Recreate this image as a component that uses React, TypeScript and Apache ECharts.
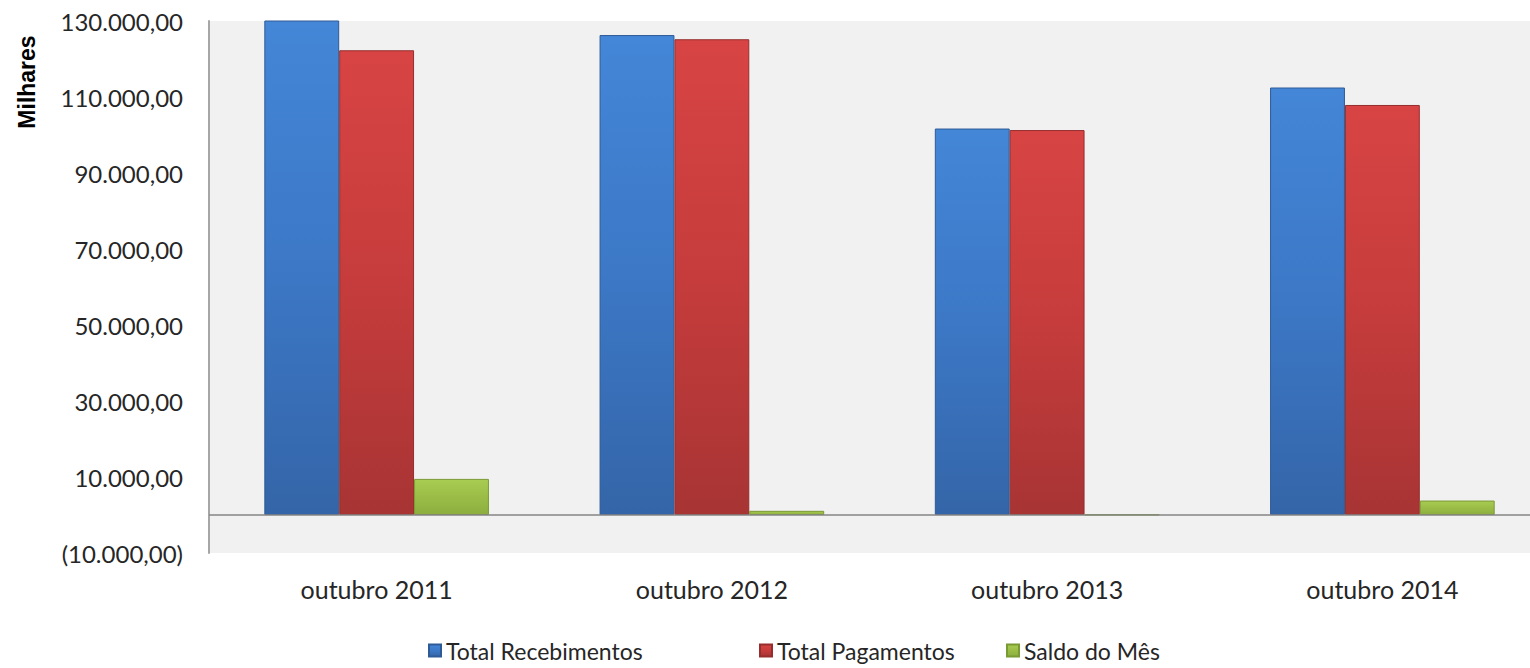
import React, { useEffect, useRef } from "react";
import * as echarts from "echarts";

const categories = ["outubro 2011", "outubro 2012", "outubro 2013", "outubro 2014"];
const seriesNames = ["Total Recebimentos", "Total Pagamentos", "Saldo do Mês"];
const recebimentos = [131800, 126300, 101700, 112500];
const pagamentos = [122300, 125200, 101300, 107900];
const saldo = [9500, 1100, 100, 3800];
const yMin = -10000;
const yMax = 130000;
const yStep = 20000;
const yAxisTitle = "Milhares";

const FONT = "Lato, 'Open Sans', sans-serif";

function fmt(v: number): string {
  const abs = Math.abs(v);
  const intPart = Math.floor(abs).toString().replace(/\B(?=(\d{3})+(?!\d))/g, ".");
  const dec = Math.round((abs - Math.floor(abs)) * 100).toString().padStart(2, "0");
  const s = `${intPart},${dec}`;
  return v < 0 ? `(${s})` : s;
}

function grad(top: string, mid: string, bottom: string) {
  return new echarts.graphic.LinearGradient(0, 0, 0, 1, [
    { offset: 0, color: top },
    { offset: 0.5, color: mid },
    { offset: 1, color: bottom },
  ]);
}

export default function App() {
  const ref = useRef<HTMLDivElement>(null);
  useEffect(() => {
    document.body.style.margin = "0";
    document.body.style.overflow = "hidden";
    if (!ref.current) return;
    const chart = echarts.init(ref.current, undefined, { renderer: "svg" });
    const colors = [
      { top: "#4486D7", mid: "#3C78C6", bottom: "#3465A8", border: "#2E5B96" },
      { top: "#D84444", mid: "#C63C3C", bottom: "#A83434", border: "#962E2E" },
      { top: "#A8CC52", mid: "#9BBD47", bottom: "#8CAE3E", border: "#7A9A34" },
    ];
    const data = [recebimentos, pagamentos, saldo];
    const legendLefts = [423, 754, 1001];
    const legendText = { fontFamily: FONT, fontSize: 23, color: "#262626" };
    chart.setOption({
      animation: false,
      backgroundColor: "#ffffff",
      textStyle: { fontFamily: FONT },
      grid: {
        left: 209,
        top: 21,
        bottom: 115,
        right: 0,
        show: true,
        backgroundColor: "#F1F1F1",
        borderWidth: 0,
      },
      legend: seriesNames.map((n, i) => ({
        left: legendLefts[i],
        top: 634,
        itemWidth: 12,
        itemHeight: 12,
        icon: "rect",
        textStyle: legendText,
        data: [n],
      })),
      xAxis: {
        type: "category",
        data: categories,
        axisLine: { show: false, onZero: false },
        axisTick: { show: false },
        axisLabel: { fontFamily: FONT, fontSize: 25, color: "#262626", margin: 23 },
        splitLine: { show: false },
      },
      yAxis: {
        type: "value",
        min: yMin,
        max: yMax,
        interval: yStep,
        axisLine: { show: true, lineStyle: { color: "#A6A6A6", width: 2 } },
        axisTick: { show: false },
        splitLine: { show: false },
        axisLabel: {
          fontFamily: FONT,
          fontSize: 24,
          color: "#262626",
          margin: 26,
          formatter: (v: number) => fmt(v),
        },
      },
      graphic: [
        {
          type: "text",
          x: 27,
          y: 82,
          rotation: Math.PI / 2,
          style: {
            text: yAxisTitle,
            fontFamily: "'Liberation Sans', Arial, sans-serif",
            fontWeight: "bold",
            fontSize: 23,
            fill: "#000000",
            textAlign: "center",
            textVerticalAlign: "middle",
          },
        },
      ],
      series: seriesNames.map((name, i) => ({
        name,
        type: "bar",
        data: data[i],
        barGap: "0%",
        barCategoryGap: "33%",
        clip: true,
        itemStyle: {
          color: grad(colors[i].top, colors[i].mid, colors[i].bottom),
          borderColor: colors[i].border,
          borderWidth: 1,
        },
        ...(i === 0
          ? {
              markLine: {
                silent: true,
                symbol: "none",
                label: { show: false },
                lineStyle: { color: "#858585", width: 1.5, type: "solid" },
                data: [{ yAxis: 0 }],
              },
            }
          : {}),
      })),
    });
    return () => chart.dispose();
  }, []);
  return <div ref={ref} style={{ width: 1550, height: 668 }} />;
}
